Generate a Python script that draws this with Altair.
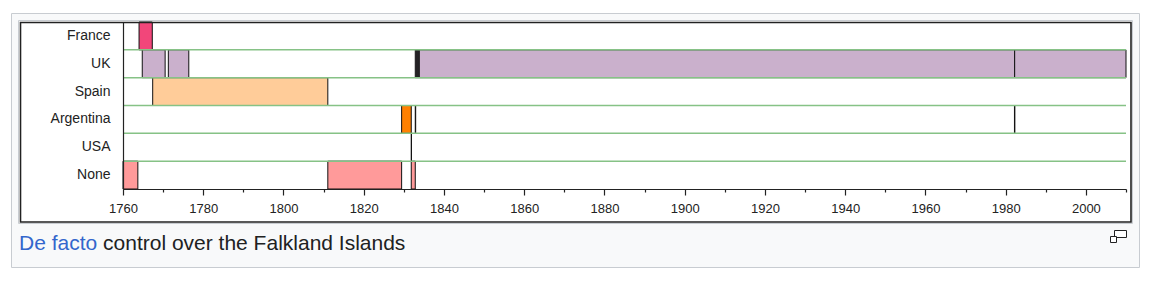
import altair as alt
import pandas as pd

rows = ["France", "UK", "Spain", "Argentina", "USA", "None"]
row_colors = ["#f2467a", "#cab0cc", "#ffcc99", "#ff8000", "#ffffff", "#ff9a9a"]

france_periods = [(1764.0, 1767.3)]
uk_periods = [(1764.8, 1770.5), (1771.3, 1776.4), (1832.85, 1833.1), (1833.1, 1833.35),
              (1833.35, 1833.6), (1833.6, 1833.85), (1833.85, 1982.25), (1982.25, 2010.0)]
spain_periods = [(1767.4, 1811.05)]
argentina_periods = [(1829.45, 1831.85), (1832.85, 1832.95), (1982.2, 1982.3)]
usa_periods = [(1831.85, 1831.9)]
none_periods = [(1760.0, 1763.7), (1811.05, 1829.45), (1831.85, 1832.85)]

all_periods = [france_periods, uk_periods, spain_periods, argentina_periods, usa_periods, none_periods]

year_min, year_max = 1760, 2010
tick_years = list(range(1760, 2011, 10))
caption_link = "De facto"
caption_rest = "control over the Falkland Islands"

recs = []
for r, plist in zip(rows, all_periods):
    for s, e in plist:
        recs.append({"row": r, "start": s, "end": e})
bars_df = pd.DataFrame(recs)
sep_df = pd.DataFrame({"row": rows[1:]})
one = pd.DataFrame({"k": [0]})

W, H = 1003, 167
OX, OY = 123, 22  # plot origin in page pixels

xscale = alt.Scale(domain=[year_min, year_max], nice=False, zero=False)
yscale = alt.Scale(domain=rows, paddingInner=0, paddingOuter=0)

FONT = "Liberation Sans"

yaxis = alt.Axis(title=None, ticks=False, domainColor="#222222", domainWidth=1.2,
                 labelFont=FONT, labelFontSize=14, labelColor="#222222", labelPadding=13, zindex=2)

frame_outer = alt.Chart(one).mark_rect(fill="#f8f9fa", stroke="#c8ccd1", strokeWidth=1).encode(
    x=alt.value(11 - OX + 0.5), x2=alt.value(1139 - OX + 0.5),
    y=alt.value(13 - OY + 0.5), y2=alt.value(267 - OY + 0.5))
frame_inner = alt.Chart(one).mark_rect(fill="#ffffff", stroke="#c8ccd1", strokeWidth=1).encode(
    x=alt.value(18 - OX + 0.5), x2=alt.value(1132 - OX + 0.5),
    y=alt.value(20 - OY + 0.5), y2=alt.value(223 - OY + 0.5))
frame_black = alt.Chart(one).mark_rect(fill="transparent", stroke="#222222", strokeWidth=1.6).encode(
    x=alt.value(20 - OX + 0.5), x2=alt.value(1131 - OX),
    y=alt.value(22 - OY + 0.5), y2=alt.value(222 - OY))

bars = alt.Chart(bars_df).mark_rect(stroke="#111111", strokeWidth=1).encode(
    x=alt.X("start:Q", scale=xscale, axis=alt.Axis(
        values=tick_years, title=None, grid=False, orient="bottom",
        labelExpr="datum.value % 20 == 0 && datum.value < 2010 ? datum.label : ''",
        format="d", labelFont=FONT, labelFontSize=13, labelColor="#222222",
        labelPadding=7, domainColor="#222222", domainWidth=1.2, tickColor="#222222",
        tickWidth=1.2, tickSize={"condition": {"test": "datum.value % 20 == 0", "value": 6}, "value": 3},
        labelFlush=False, labelOverlap=False, zindex=2)),
    x2="end:Q",
    y=alt.Y("row:N", scale=yscale, sort=rows, axis=yaxis),
    fill=alt.Fill("row:N", scale=alt.Scale(domain=rows, range=row_colors), legend=None),
)

seps = alt.Chart(sep_df).mark_rule(color="#86c286", strokeWidth=1.5).encode(
    y=alt.Y("row:N", scale=yscale, sort=rows, bandPosition=0, axis=yaxis),
)

cap_size = 21
link_text = alt.Chart(one).mark_text(align="left", baseline="alphabetic", font=FONT,
                                     fontSize=cap_size, color="#3366cc").encode(
    x=alt.value(19 - OX), y=alt.value(250 - OY), text=alt.value(caption_link))
rest_text = alt.Chart(one).mark_text(align="left", baseline="alphabetic", font=FONT,
                                     fontSize=cap_size, color="#202122").encode(
    x=alt.value(19 - OX + 4.002 * cap_size), y=alt.value(250 - OY), text=alt.value(caption_rest))

icon_big = alt.Chart(one).mark_rect(fill="#ffffff", stroke="#222222", strokeWidth=1).encode(
    x=alt.value(1114 - OX + 0.5), x2=alt.value(1126 - OX + 0.5),
    y=alt.value(230 - OY + 0.5), y2=alt.value(237 - OY + 0.5))
icon_small = alt.Chart(one).mark_rect(fill="#ffffff", stroke="#222222", strokeWidth=1).encode(
    x=alt.value(1110 - OX + 0.5), x2=alt.value(1116 - OX + 0.5),
    y=alt.value(236 - OY + 0.5), y2=alt.value(242 - OY + 0.5))

chart = alt.layer(
    frame_outer, frame_inner, bars, seps, frame_black, link_text, rest_text, icon_big, icon_small
).properties(
    width=W, height=H, autosize="none",
    padding={"left": OX, "top": OY, "right": 1157 - OX - W, "bottom": 288 - OY - H},
    background="#ffffff",
).configure_view(strokeWidth=0)

chart.save("out.html", embed_options={"renderer": "svg", "actions": False})
